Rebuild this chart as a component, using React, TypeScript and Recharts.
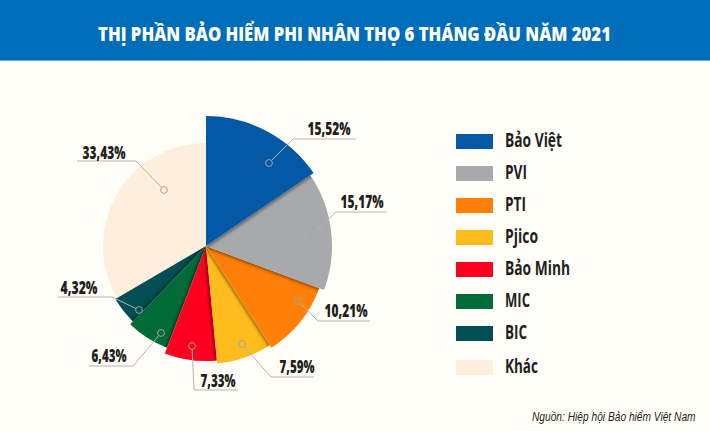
import React from 'react';
import { PieChart, Pie, Sector, Legend } from 'recharts';

const names = ['Bảo Việt', 'PVI', 'PTI', 'Pjico', 'Bảo Minh', 'MIC', 'BIC', 'Khác'];
const shares = [15.52, 15.17, 10.21, 7.59, 7.33, 6.43, 4.32, 33.43];
const shareLabels = ['15,52%', '15,17%', '10,21%', '7,59%', '7,33%', '6,43%', '4,32%', '33,43%'];
const colors = ['#0558A5', '#A7A9AC', '#FF7F07', '#FFBC1C', '#FF0020', '#006B36', '#014F55', '#FDEFDC'];

// each slice sticks out by its own amount
const sliceRadius = [130, 126, 121, 118, 115, 109, 105, 103];

// the reference uses a condensed face, so the text is squeezed to its measured width
const legendTextWidth = [57, 22, 21, 33, 65, 25, 22, 33];
const labelTextWidth = [43, 43, 43, 35, 35, 35, 37, 43];

// leader lines, relative to the pie centre: marker, elbow, line end, text centre
const leaders = [
  { m: [63, -83], e: [87, -107], l: [150, -107], t: [123, -118] },
  { m: [108, -13], e: [130, -34], l: [181, -34], t: [156, -45] },
  { m: [92, 55], e: [112, 75], l: [164, 75], t: [140, 64] },
  { m: [36, 98], e: [65, 131], l: [108, 131], t: [91, 120] },
  { m: [-14, 100], e: [-12, 144], l: [32, 144], t: [12, 134] },
  { m: [-45, 87], e: [-73, 120], l: [-117, 120], t: [-97, 109] },
  { m: [-67, 64], e: [-94, 51], l: [-148, 51], t: [-127, 41] },
  { m: [-42, -56], e: [-70, -85], l: [-129, -85], t: [-102, -94] },
];

// drawn backwards so the earlier slices sit on top
const rows = names.map((name, i) => ({ name, share: shares[i], idx: i })).reverse();

const FONT = '"Open Sans", sans-serif';
const INK = '#231F20';

const renderSlice = (props: any) => {
  const i = props.payload.idx;
  const { cx, cy, endAngle } = props;
  const rad = (endAngle * Math.PI) / 180;
  const r = sliceRadius[i];
  const shaded = i > 0 && i < 7;
  return (
    <g>
      <clipPath id={`slice-clip-${i}`}>
        <Sector cx={cx} cy={cy} innerRadius={0} outerRadius={r} startAngle={props.startAngle} endAngle={endAngle} />
      </clipPath>
      <Sector cx={cx} cy={cy} innerRadius={0} outerRadius={r} startAngle={props.startAngle} endAngle={endAngle} fill={colors[i]} stroke="none" />
      {shaded && (
        <g clipPath={`url(#slice-clip-${i})`}>
          <line
            x1={cx}
            y1={cy}
            x2={cx + Math.cos(rad) * (r + 10)}
            y2={cy - Math.sin(rad) * (r + 10)}
            stroke="#000"
            strokeOpacity={0.4}
            strokeWidth={4}
            filter="url(#edgeBlur)"
          />
        </g>
      )}
    </g>
  );
};

const renderLabel = (props: any) => {
  const i = props.payload.idx;
  const { m, e, l, t } = leaders[i];
  const { cx, cy } = props;
  return (
    <g>
      <polyline
        points={`${cx + m[0]},${cy + m[1]} ${cx + e[0]},${cy + e[1]} ${cx + l[0]},${cy + l[1]}`}
        fill="none"
        stroke="#B5B5AE"
        strokeWidth={1}
      />
      <circle cx={cx + m[0]} cy={cy + m[1]} r={3.4} fill={colors[i]} stroke="#A3A3A0" strokeWidth={1} />
      <text
        x={cx + t[0]}
        y={cy + t[1]}
        textAnchor="middle"
        dominantBaseline="central"
        fontFamily={FONT}
        fontWeight={800}
        fontSize={17}
        fill={INK}
        textLength={labelTextWidth[i]}
        lengthAdjust="spacingAndGlyphs"
      >
        {shareLabels[i]}
      </text>
    </g>
  );
};

const LegendBox = () => (
  <div>
    {names.map((name, i) => (
      <div key={name} style={{ display: 'flex', alignItems: 'center', height: 32, marginTop: i === 7 ? 2 : 0 }}>
        <div style={{ width: 37, height: 15, background: colors[i], marginRight: 12 }} />
        <svg width={90} height={30} style={{ display: 'block' }}>
          <text
            x={0}
            y={14}
            dominantBaseline="central"
            fontFamily={FONT}
            fontWeight={700}
            fontSize={19}
            fill={INK}
            textLength={legendTextWidth[i]}
            lengthAdjust="spacingAndGlyphs"
          >
            {name}
          </text>
        </svg>
      </div>
    ))}
  </div>
);

export default function App() {
  return (
    <div style={{ position: 'absolute', left: 0, top: 0, width: 710, height: 431, background: '#FFFEF8', overflow: 'hidden' }}>
      <svg width={710} height={61} style={{ position: 'absolute', left: 0, top: 0 }}>
        <rect x={0} y={0} width={710} height={60} fill="#006DBA" />
        <rect x={0} y={60} width={710} height={1} fill="#5FA8D8" />
        <text
          transform="translate(354.5 33) scale(0.835 1)"
          textAnchor="middle"
          dominantBaseline="central"
          fontFamily={FONT}
          fontWeight={800}
          fontSize={20}
          fill="#fff"
        >
          THỊ PHẦN BẢO HIỂM PHI NHÂN THỌ 6 THÁNG ĐẦU NĂM 2021
        </text>
      </svg>
      <div style={{ position: 'absolute', left: 0, top: 0 }}>
        <PieChart width={710} height={431} margin={{ top: 0, right: 0, bottom: 0, left: 0 }}>
          <defs>
            <filter id="edgeBlur" x="-30%" y="-30%" width="160%" height="160%" filterUnits="userSpaceOnUse">
              <feGaussianBlur stdDeviation={1.6} />
            </filter>
          </defs>
          <Pie
            data={rows}
            dataKey="share"
            nameKey="name"
            cx={206}
            cy={246}
            innerRadius={0}
            outerRadius={130}
            startAngle={-270}
            endAngle={90}
            shape={renderSlice}
            label={renderLabel}
            labelLine={false}
            isAnimationActive={false}
          />
          <Legend
            content={<LegendBox />}
            layout="vertical"
            wrapperStyle={{ position: 'absolute', left: 456, top: 125, width: 220 }}
          />
        </PieChart>
      </div>
      <svg width={710} height={30} style={{ position: 'absolute', left: 0, top: 401 }}>
        <text
          transform="translate(532 15) scale(0.785 1)"
          dominantBaseline="central"
          fontFamily='"Liberation Sans", sans-serif'
          fontStyle="italic"
          fontSize={13}
          fill={INK}
        >
          Nguồn: Hiệp hội Bảo hiểm Việt Nam
        </text>
      </svg>
    </div>
  );
}
